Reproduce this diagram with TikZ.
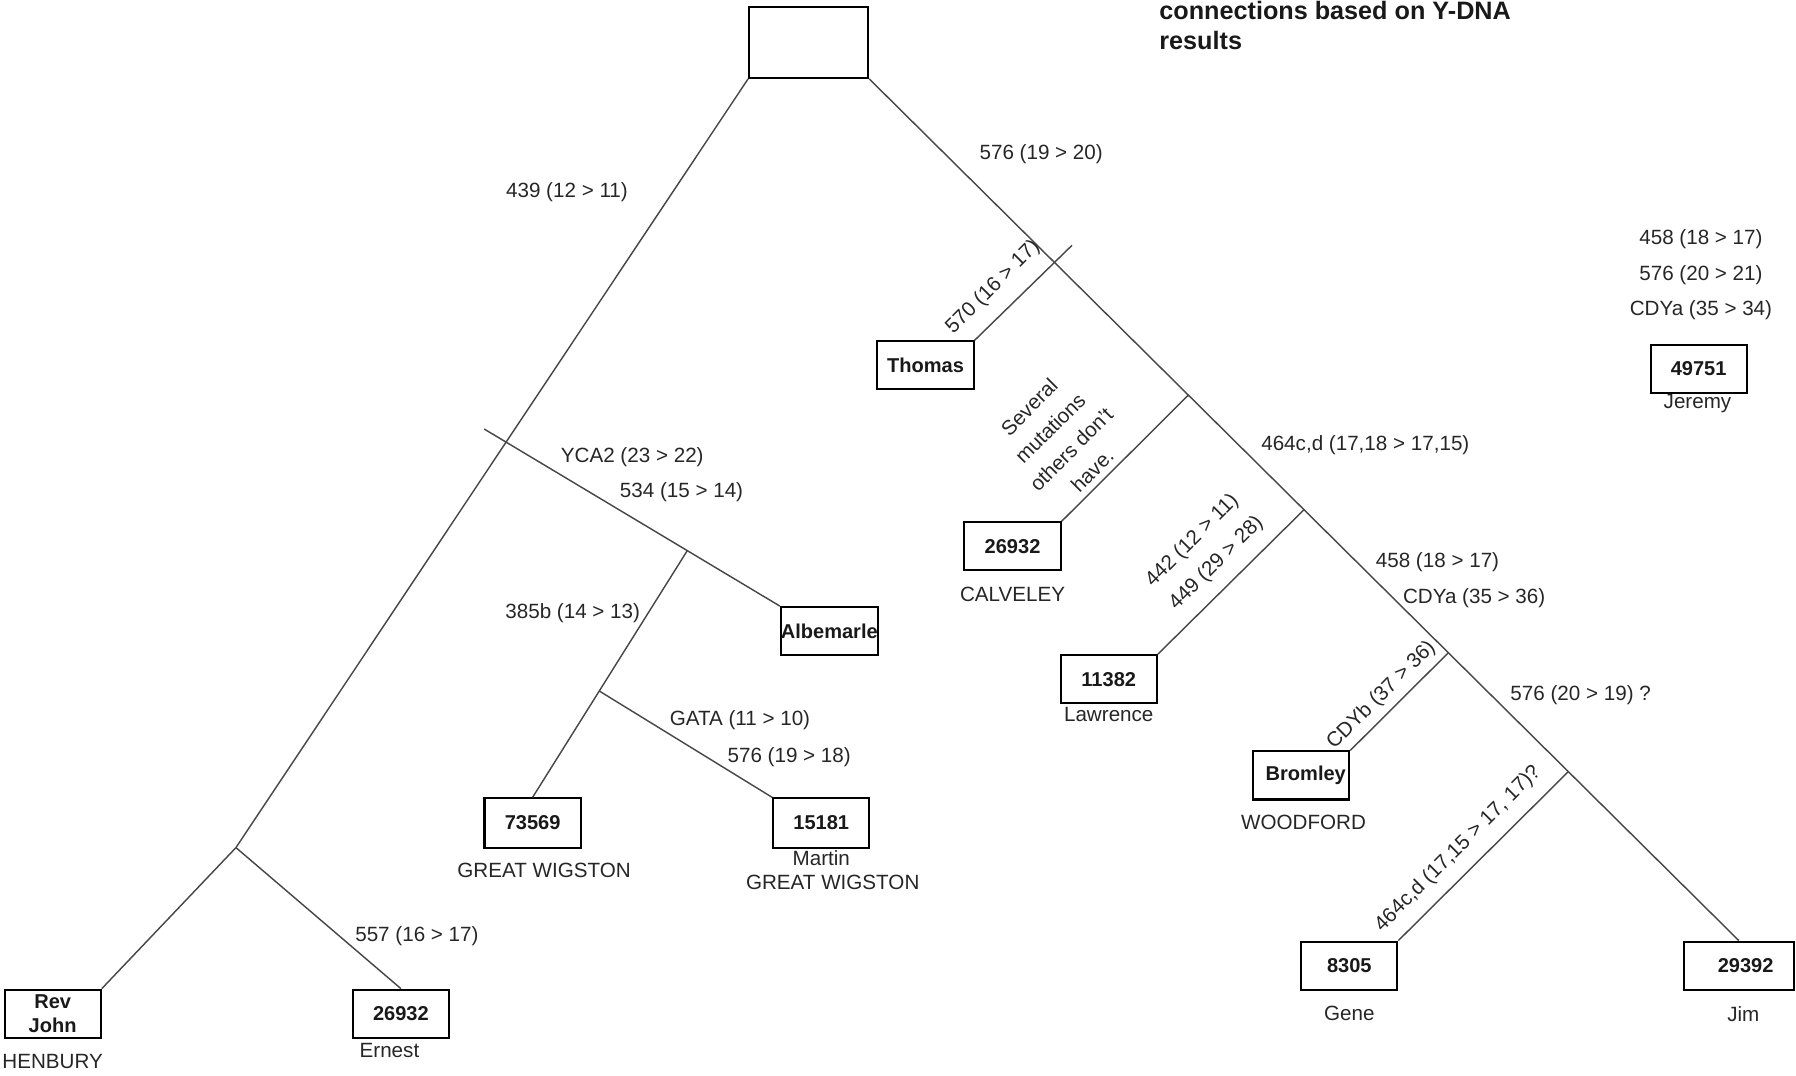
\documentclass[tikz,border=0pt]{standalone}
\usepackage{fontspec}
\setmainfont{Liberation Sans}
\usetikzlibrary{calc}
\begin{document}
\begin{tikzpicture}[x=1pt,y=-1pt,
  br/.style={draw=black!72, line width=1.25pt},
  bx/.style={draw=black, line width=1.8pt, minimum width=84pt, minimum height=42pt, inner sep=0pt,
             font=\fontsize{17.5}{21}\selectfont\bfseries, text=black!90},
  lb/.style={font=\fontsize{18}{22}\selectfont, text=black!85, inner sep=0pt},
  rl/.style={lb, rotate=45},
  ttl/.style={anchor=base west, font=\fontsize{22}{26}\selectfont\bfseries, text=black!90, inner sep=0pt}
]
\useasboundingbox (0,0) rectangle (1568,939);

% title
\node[ttl] (title1) at (1012,17) {connections based on Y-DNA};
\node[ttl] (title2) at (1012,43) {results};

% boxes
\node[bx, minimum width=104pt, minimum height=62pt] (top) at (706,37) {};
\node[bx] (thomas) at (808,319) {Thomas};
\node[bx] (calv) at (884,477) {26932};
\node[bx] (law) at (968,593) {11382};
\node[bx] (brom) at (1136,677) {\hspace{8pt}Bromley};
\node[bx] (jer) at (1483,322) {49751};
\node[bx] (alb) at (724,551) {Albemarle};
\node[bx, minimum height=43pt] (w73) at (465,718.5) {73569};
\node[bx, minimum height=43pt] (w15) at (717,718.5) {15181};
\node[bx, align=center, font=\fontsize{17.5}{21}\selectfont\bfseries] (rev) at (46,885) {Rev\\John};
\node[bx] (ern) at (350,885) {26932};
\node[bx] (gene) at (1178,843) {8305\hspace{14pt}};
\node[bx, minimum width=96pt] (jim) at (1518,843) {\hspace{12pt}29392};

% names / places under boxes
\node[lb] (calvn) at (884,519) {CALVELEY};
\node[lb] (lawn) at (968,624) {Lawrence};
\node[lb] (bromn) at (1138,718) {WOODFORD};
\node[lb] (genen) at (1178,885) {Gene};
\node[lb] (jimn) at (1522,885) {Jim};
\node[lb] (jern) at (1482,352) {Jeremy};
\node[lb] (w15n) at (717,749) {Martin};
\node[lb] (w15p) at (727,770) {GREAT WIGSTON};
\node[lb] (w73p) at (475,760) {GREAT WIGSTON};
\node[lb] (revp) at (46,927) {HENBURY};
\node[lb] (ernn) at (340,917) {Ernest};

% left side of tree
\coordinate (j1) at (206,740);
\draw[br] (top.south west) -- (j1);
\draw[br] (j1) -- (rev.north east);
\draw[br] (j1) -- (ern.north);
\coordinate (jl) at ($(top.south west)!0.4725!(j1)$);
\coordinate (ta) at ($(alb.north west)!1.08!(jl)$);
\draw[br] (ta) -- (alb.north west);
\coordinate (j2) at ($(jl)!0.662!(alb.north west)$);
\draw[br] (j2) -- (w73.north);
\coordinate (j3) at ($(j2)!0.569!(w73.north)$);
\draw[br] (j3) -- (w15.north west);

% right side of tree
\draw[br] (top.south east) -- (jim.north);
\coordinate (jt) at ($(top.south east)!0.213!(jim.north)$);
\coordinate (tt) at ($(thomas.north east)!1.22!(jt)$);
\draw[br] (thomas.north east) -- (tt);
\coordinate (jc) at ($(top.south east)!0.367!(jim.north)$);
\draw[br] (jc) -- (calv.north east);
\coordinate (jw) at ($(top.south east)!0.50!(jim.north)$);
\draw[br] (jw) -- (law.north east);
\coordinate (jb) at ($(top.south east)!0.666!(jim.north)$);
\draw[br] (jb) -- (brom.north east);
\coordinate (jg) at ($(top.south east)!0.804!(jim.north)$);
\draw[br] (jg) -- (gene.north east);

% mutation labels
\node[lb] (l439) at (495,168) {439 (12 > 11)};
\node[lb] (l576a) at (909,135) {576 (19 > 20)};
\node[rl] (l570) at (867,251) {570 (16 > 17)};
\node[rl, align=center, font=\fontsize{18}{26}\selectfont] (lsev) at (926,383) {Several\\mutations\\others don't\\have.};
\node[lb] (l464) at (1192,389) {464c,d (17,18 > 17,15)};
\node[rl] (l442) at (1041,472) {442 (12 > 11)};
\node[rl] (l449) at (1062,492) {449 (29 > 28)};
\node[lb] (l458b) at (1255,491) {458 (18 > 17)};
\node[lb] (lcdya) at (1287,522) {CDYa (35 > 36)};
\node[rl] (lcdyb) at (1206,607) {CDYb (37 > 36)};
\node[lb] (l576c) at (1380,607) {576 (20 > 19) ?};
\node[rl] (l464b) at (1273,741) {464c,d (17,15 > 17, 17)?};
\node[lb] (lj1) at (1485,209) {458 (18 > 17)};
\node[lb] (lj2) at (1485,240) {576 (20 > 21)};
\node[lb] (lj3) at (1485,271) {CDYa (35 > 34)};
\node[lb] (lyca) at (552,399) {YCA2 (23 > 22)};
\node[lb] (l534) at (595,430) {534 (15 > 14)};
\node[lb] (l385) at (500,535) {385b (14 > 13)};
\node[lb] (lgata) at (646,629) {GATA (11 > 10)};
\node[lb] (l576b) at (689,661) {576 (19 > 18)};
\node[lb] (l557) at (364,817) {557 (16 > 17)};
\end{tikzpicture}
\end{document}
